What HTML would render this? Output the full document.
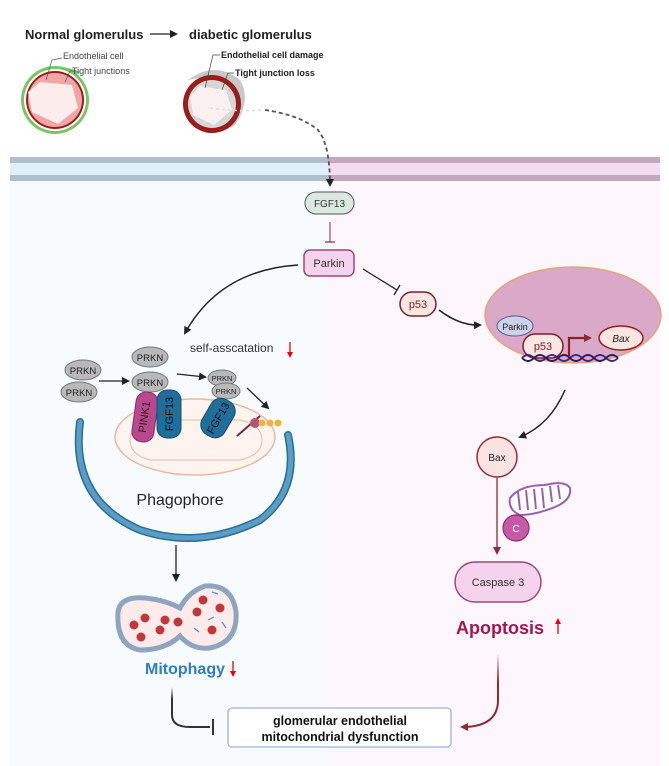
<!DOCTYPE html>
<html><head><meta charset="utf-8"><style>
html,body{margin:0;padding:0;background:#fff}
svg{display:block;font-family:"Liberation Sans",sans-serif}
</style></head><body>
<svg width="669" height="766" viewBox="0 0 669 766" xmlns="http://www.w3.org/2000/svg">
<defs>
<marker id="ak" markerWidth="8" markerHeight="8" refX="6" refY="4" orient="auto" markerUnits="userSpaceOnUse"><path d="M0,0 L8,4 L0,8 Z" fill="#222"/></marker>
<marker id="ar" markerWidth="8" markerHeight="8" refX="6" refY="4" orient="auto" markerUnits="userSpaceOnUse"><path d="M0,0 L8,4 L0,8 Z" fill="#8f2a30"/></marker>
<linearGradient id="fade" x1="0" y1="0" x2="0" y2="1"><stop offset="0" stop-color="#8f2a30" stop-opacity="0"/><stop offset="0.4" stop-color="#8f2a30"/></linearGradient>
<linearGradient id="fadek" x1="0" y1="0" x2="0" y2="1"><stop offset="0" stop-color="#333" stop-opacity="0"/><stop offset="0.3" stop-color="#333"/></linearGradient>
</defs>
<rect x="10" y="181" width="318" height="585" fill="#f7fbfe"/>
<rect x="328" y="181" width="332" height="585" fill="#fdf6fc"/>
<rect x="10" y="157" width="318" height="6" fill="#b0bfca"/>
<rect x="10" y="163" width="318" height="12" fill="#e0f0fb"/>
<rect x="10" y="175" width="318" height="6" fill="#b0bfca"/>
<rect x="328" y="157" width="332" height="6" fill="#c3a9c0"/>
<rect x="328" y="163" width="332" height="12" fill="#f4dcf0"/>
<rect x="328" y="175" width="332" height="6" fill="#c3a9c0"/>

<text x="25" y="39" font-size="13" font-weight="bold" fill="#222">Normal  glomerulus</text>
<line x1="150" y1="34" x2="176" y2="34" stroke="#222" stroke-width="1.3" marker-end="url(#ak)"/>
<text x="189" y="39" font-size="13" font-weight="bold" fill="#222">diabetic glomerulus</text>

<path d="M30,80 Q55,60 80,72 Q70,78 65,75 Q85,90 70,120 Q55,132 30,120 Q15,100 30,80Z" fill="#7cc564"/>
<circle cx="55" cy="100" r="34" fill="#7cc564"/>
<circle cx="55" cy="100" r="31" fill="#fff"/>
<circle cx="55" cy="100" r="29" fill="#9b1c1c"/>
<circle cx="55" cy="100" r="27" fill="#f2a5a5"/>
<path d="M40,82 L72,85 L78,108 L58,124 L32,112 L28,92Z" fill="#fcecec"/>
<polyline points="46,80 52,60 62,58" fill="none" stroke="#555" stroke-width="0.7"/>
<polyline points="65,82 70,71 76,71" fill="none" stroke="#555" stroke-width="0.7"/>
<text x="63" y="59" font-size="9" fill="#444">Endothelial cell</text>
<text x="72" y="74" font-size="9" fill="#444">Tight junctions</text>

<path d="M188,80 Q215,60 240,80 Q252,100 235,125 Q220,135 205,133 Q235,120 238,100 Q235,70 188,80Z" fill="#c8c8c8"/>
<circle cx="212" cy="104" r="29" fill="#9b1c1c"/>
<circle cx="212" cy="104" r="24" fill="#d7d7d7"/>
<path d="M200,86 L226,90 L232,110 L214,125 L193,115 L190,96Z" fill="#faf0f0"/>
<polyline points="205,88 213,55 220,55" fill="none" stroke="#444" stroke-width="0.7"/>
<polyline points="222,90 228,73 234,73" fill="none" stroke="#444" stroke-width="0.7"/>
<text x="221" y="58" font-size="9" font-weight="bold" fill="#222">Endothelial cell damage</text>
<text x="235" y="76" font-size="9" font-weight="bold" fill="#222">Tight junction loss</text>
<path d="M265,110 Q300,115 318,130 Q330,145 330,185" fill="none" stroke="#555" stroke-width="1.8" stroke-dasharray="4,3" marker-end="url(#ak)"/>
<path d="M210,108 Q240,112 262,110" fill="none" stroke="#ddd" stroke-width="1.5" stroke-dasharray="3,3"/>

<rect x="305" y="192" width="49" height="22" rx="11" fill="#dbe9e3" stroke="#555" stroke-width="1"/>
<text x="329.5" y="207" font-size="10" text-anchor="middle" fill="#333">FGF13</text>
<line x1="330" y1="222" x2="330" y2="242" stroke="#8f2a30" stroke-width="1"/>
<line x1="325" y1="242" x2="335" y2="242" stroke="#8f2a30" stroke-width="1.2"/>
<rect x="304" y="250" width="50" height="26" rx="6" fill="#f6d3ec" stroke="#a0467d" stroke-width="1.5"/>
<text x="329" y="267" font-size="11" text-anchor="middle" fill="#333">Parkin</text>

<line x1="363" y1="269" x2="397" y2="290" stroke="#222" stroke-width="1.3"/>
<line x1="394" y1="295" x2="400" y2="285" stroke="#222" stroke-width="1.3"/>
<rect x="400" y="292" width="36" height="24" rx="12" fill="#fbe6e3" stroke="#7b2228" stroke-width="1.5"/>
<text x="418" y="308" font-size="11" text-anchor="middle" fill="#7b2228">p53</text>
<path d="M439,310 Q460,326 480,325" fill="none" stroke="#222" stroke-width="1.5" marker-end="url(#ak)"/>

<ellipse cx="573" cy="315" rx="88" ry="48" fill="#d9a9c7" stroke="#e3a47d" stroke-width="1.5"/>
<ellipse cx="515" cy="326" rx="18" ry="10" fill="#ccd2ea" stroke="#5a5a8c" stroke-width="1"/>
<text x="515" y="330" font-size="9" text-anchor="middle" fill="#222">Parkin</text>
<rect x="523" y="334" width="40" height="24" rx="12" fill="#fbe6e3" stroke="#7b2228" stroke-width="1.5"/>
<text x="543" y="350" font-size="11" text-anchor="middle" fill="#7b2228">p53</text>
<path d="M522,358 q6,-6 12,0 t12,0 t12,0 t12,0 t12,0 t12,0 t12,0 t12,0" fill="none" stroke="#3a2a80" stroke-width="1.8"/>
<path d="M522,358 q6,6 12,0 t12,0 t12,0 t12,0 t12,0 t12,0 t12,0 t12,0" fill="none" stroke="#2a1a60" stroke-width="1.8"/>
<polyline points="569,356 569,338 590,338" fill="none" stroke="#9b1c1c" stroke-width="2.2" marker-end="url(#ar)"/>
<ellipse cx="621" cy="338" rx="22" ry="12" fill="#fbe6e3" stroke="#9b1c1c" stroke-width="1.5"/>
<text x="621" y="342" font-size="10" font-style="italic" text-anchor="middle" fill="#222">Bax</text>

<path d="M565,390 Q550,425 520,437" fill="none" stroke="#222" stroke-width="1.5" marker-end="url(#ak)"/>
<circle cx="497" cy="457" r="20" fill="#fbe3e3" stroke="#9b2a35" stroke-width="1.5"/>
<text x="497" y="461" font-size="10" text-anchor="middle" fill="#222">Bax</text>
<line x1="497" y1="478" x2="497" y2="553" stroke="#8f2a30" stroke-width="1.3" marker-end="url(#ar)"/>
<path d="M510,498 Q520,485 545,485 Q565,480 570,488 Q572,500 555,507 Q535,515 520,515 Q508,510 510,498Z" fill="#fff" stroke="#9a5fb0" stroke-width="2"/>
<path d="M518,492 l2,18 M526,490 l2,20 M534,489 l2,20 M542,488 l2,20 M550,486 l2,16 M558,485 l2,14" stroke="#9a5fb0" stroke-width="2"/>
<circle cx="516" cy="528" r="13" fill="#c55aa6" stroke="#8a2d6f" stroke-width="1.2"/>
<text x="516" y="532" font-size="10" text-anchor="middle" fill="#fff">C</text>
<rect x="455" y="562" width="86" height="40" rx="20" fill="#f6d3ec" stroke="#a0467d" stroke-width="1.5"/>
<text x="498" y="586" font-size="11" text-anchor="middle" fill="#333">Caspase 3</text>
<text x="500" y="634" font-size="18" font-weight="bold" text-anchor="middle" fill="#a3174f">Apoptosis</text>
<line x1="558" y1="634" x2="558" y2="622" stroke="#e00" stroke-width="1.3"/>
<path d="M555,624 L558,618 L561,624Z" fill="#e00"/>
<path d="M498,653 L498,700 Q498,727 462,727" fill="none" stroke="url(#fade)" stroke-width="2" marker-end="url(#ar)"/>

<path d="M298,265 Q220,270 185,333" fill="none" stroke="#222" stroke-width="1.5" marker-end="url(#ak)"/>
<text x="190" y="352" font-size="12" fill="#333">self-asscatation</text>
<line x1="290" y1="342" x2="290" y2="355" stroke="#e00" stroke-width="1.3"/>
<path d="M287,352 L290,358 L293,352Z" fill="#e00"/>

<path d="M80,422 Q70,500 140,530 Q200,550 260,520 Q300,490 288,435" fill="none" stroke="#2b6d96" stroke-width="8" stroke-linecap="round"/>
<path d="M80,422 Q70,500 140,530 Q200,550 260,520 Q300,490 288,435" fill="none" stroke="#5a9ec5" stroke-width="5" stroke-linecap="round"/>
<text x="180" y="505" font-size="16" text-anchor="middle" fill="#222">Phagophore</text>
<ellipse cx="195" cy="437" rx="80" ry="38" fill="#fdf3ef" stroke="#eab8a0" stroke-width="1.5"/>
<path d="M130,440 Q130,425 150,420 L240,420 Q262,425 262,440 Q262,455 240,460 L150,460 Q130,455 130,440Z" fill="none" stroke="#eab8a0" stroke-width="1"/>
<line x1="237" y1="436" x2="260" y2="416" stroke="#7b2240" stroke-width="2"/>
<circle cx="255" cy="423" r="5" fill="#b05574"/>
<circle cx="262" cy="423" r="3.5" fill="#f0b23a"/><circle cx="270" cy="423" r="3.5" fill="#f0b23a"/><circle cx="278" cy="423" r="3.5" fill="#f0b23a"/>
<g font-size="9.5" text-anchor="middle" fill="#222">
<ellipse cx="83" cy="370" rx="18" ry="10" fill="#b9b9b9" stroke="#777"/><text x="83" y="374">PRKN</text>
<ellipse cx="79" cy="392" rx="18" ry="10" fill="#b9b9b9" stroke="#777"/><text x="79" y="396">PRKN</text>
<ellipse cx="150" cy="357" rx="18" ry="10" fill="#b9b9b9" stroke="#777"/><text x="150" y="361">PRKN</text>
<ellipse cx="150" cy="382" rx="18" ry="10" fill="#b9b9b9" stroke="#777"/><text x="150" y="386">PRKN</text>
<ellipse cx="222" cy="378" rx="14" ry="8" fill="#b9b9b9" stroke="#777"/><text x="222" y="381" font-size="7.5">PRKN</text>
<ellipse cx="226" cy="391" rx="14" ry="8" fill="#b9b9b9" stroke="#777"/><text x="226" y="394" font-size="7.5">PRKN</text>
</g>
<line x1="99" y1="381" x2="128" y2="381" stroke="#222" stroke-width="1.3" marker-end="url(#ak)"/>
<line x1="177" y1="374" x2="205" y2="377" stroke="#222" stroke-width="1.3" marker-end="url(#ak)"/>
<line x1="247" y1="388" x2="268" y2="408" stroke="#222" stroke-width="1.3" marker-end="url(#ak)"/>
<rect x="134" y="392" width="22" height="50" rx="10" fill="#b9488d" stroke="#8a2d6f" transform="rotate(8 145 417)"/>
<text x="145" y="420" font-size="11" text-anchor="middle" fill="#222" transform="rotate(-82 145 417)">PINK1</text>
<rect x="157" y="390" width="24" height="48" rx="10" fill="#1f6e9c" stroke="#15506f"/>
<text x="169" y="418" font-size="11" text-anchor="middle" fill="#111" transform="rotate(-90 169 414)">FGF13</text>
<rect x="205" y="398" width="26" height="40" rx="11" fill="#1f6e9c" stroke="#15506f" transform="rotate(30 218 418)"/>
<text x="218" y="422" font-size="11" text-anchor="middle" fill="#111" transform="rotate(-60 218 418)">FGF13</text>

<line x1="176" y1="545" x2="176" y2="580" stroke="#222" stroke-width="1.3" marker-end="url(#ak)"/>
<path d="M118,612 Q120,596 145,598 Q165,600 180,608 Q188,592 205,586 Q232,584 236,612 Q238,642 210,648 Q192,650 180,636 Q165,650 140,650 Q116,646 118,612Z" fill="#fdeaea" stroke="#8fa5bf" stroke-width="5"/>
<g fill="#c0383c">
<circle cx="134" cy="625" r="4.5"/><circle cx="145" cy="618" r="4.5"/><circle cx="160" cy="630" r="4.5"/><circle cx="165" cy="620" r="4.5"/><circle cx="178" cy="622" r="4.5"/><circle cx="141" cy="637" r="4.5"/><circle cx="203" cy="600" r="4.5"/><circle cx="197" cy="612" r="4.5"/><circle cx="220" cy="608" r="4.5"/><circle cx="212" cy="630" r="4.5"/>
</g>
<g stroke="#3a9ad0" stroke-width="1.2"><line x1="208" y1="620" x2="214" y2="617"/><line x1="222" y1="622" x2="226" y2="628"/><line x1="194" y1="628" x2="199" y2="632"/><line x1="212" y1="592" x2="218" y2="594"/></g>
<text x="145" y="674" font-size="16" font-weight="bold" fill="#2f7cc3">Mitophagy</text>
<line x1="233" y1="661" x2="233" y2="674" stroke="#e00" stroke-width="1.3"/>
<path d="M230,671 L233,677 L236,671Z" fill="#e00"/>
<path d="M172,687 L172,715 Q172,727 190,727 L210,727" fill="none" stroke="url(#fadek)" stroke-width="2"/>
<line x1="213" y1="719" x2="213" y2="735" stroke="#333" stroke-width="2"/>

<rect x="228" y="708" width="223" height="39" rx="4" fill="#fff" stroke="#9fb2d9" stroke-width="1.3"/>
<text x="340" y="725" font-size="12.5" font-weight="bold" text-anchor="middle" fill="#111">glomerular endothelial</text>
<text x="340" y="741" font-size="12.5" font-weight="bold" text-anchor="middle" fill="#111">mitochondrial dysfunction</text>
</svg>
</body></html>
